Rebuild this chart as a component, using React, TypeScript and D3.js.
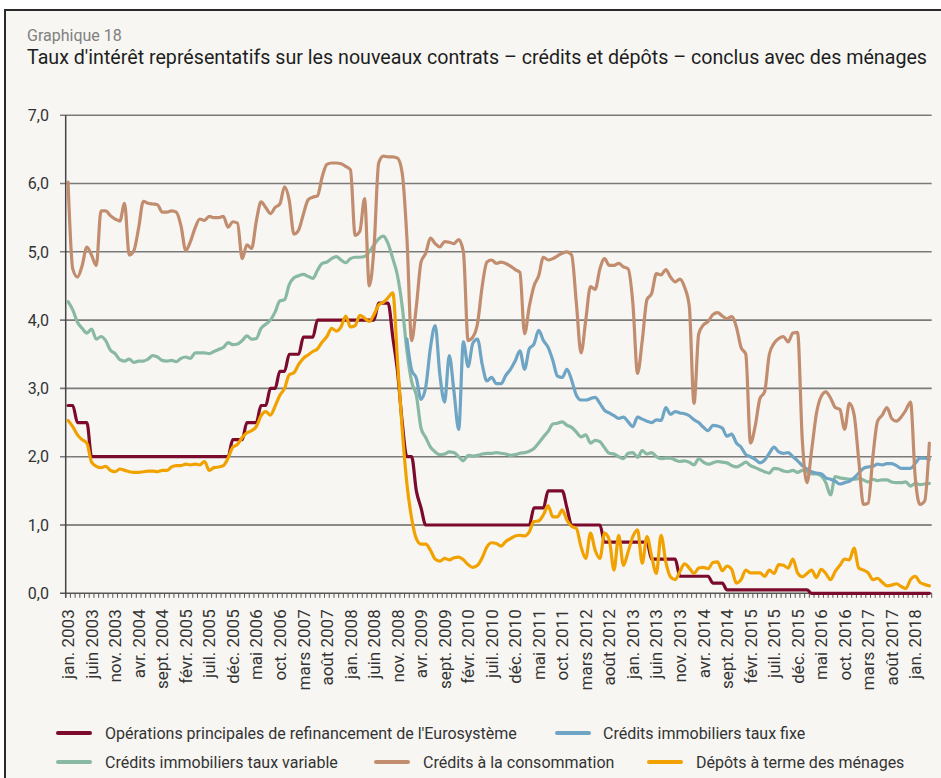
import React from 'react';
import * as d3 from 'd3';

// ---------- categories ----------
const MONTH_ABBR = ['jan.', 'févr.', 'mars', 'avr.', 'mai', 'juin', 'juil.', 'août', 'sept.', 'oct.', 'nov.', 'déc.'];
const START_YEAR = 2003;
const N_MONTHS = 184; // jan. 2003 – avr. 2018
const months: string[] = Array.from({ length: N_MONTHS }, (_, i) => `${MONTH_ABBR[i % 12]} ${START_YEAR + Math.floor(i / 12)}`);

const xTickLabels = [
  'jan. 2003', 'juin 2003', 'nov. 2003', 'avr. 2004', 'sept. 2004', 'févr. 2005', 'juil. 2005', 'déc. 2005',
  'mai 2006', 'oct. 2006', 'mars 2007', 'août 2007', 'jan. 2008', 'juin 2008', 'nov. 2008', 'avr. 2009',
  'sept. 2009', 'févr. 2010', 'juil. 2010', 'déc. 2010', 'mai 2011', 'oct. 2011', 'mars 2012', 'août 2012',
  'jan. 2013', 'juin 2013', 'nov. 2013', 'avr. 2014', 'sept. 2014', 'févr. 2015', 'juil. 2015', 'déc. 2015',
  'mai 2016', 'oct. 2016', 'mars 2017', 'août 2017', 'jan. 2018',
];
const yTicks = [0, 1, 2, 3, 4, 5, 6, 7];
const yTickLabels = ['0,0', '1,0', '2,0', '3,0', '4,0', '5,0', '6,0', '7,0'];

// ---------- series ----------
const refi: number[] = [
  2.75, 2.75, 2.5, 2.5, 2.5,
  2, 2, 2, 2, 2, 2, 2, 2, 2, 2,
  2, 2, 2, 2, 2, 2, 2, 2, 2, 2,
  2, 2, 2, 2, 2, 2, 2, 2, 2, 2,
  2.25, 2.25, 2.25, 2.5, 2.5, 2.5, 2.75, 2.75, 3, 3,
  3.25, 3.25, 3.5, 3.5, 3.5, 3.75, 3.75, 3.75, 4, 4,
  4, 4, 4, 4, 4, 4, 4, 4, 4, 4,
  4, 4.25, 4.25, 4.25, 3.75, 3.25, 2.5, 2, 2, 1.5,
  1.25, 1, 1, 1, 1, 1, 1, 1, 1, 1,
  1, 1, 1, 1, 1, 1, 1, 1, 1, 1,
  1, 1, 1, 1, 1.25, 1.25, 1.25, 1.5, 1.5, 1.5,
  1.5, 1.25, 1, 1, 1, 1, 1, 1, 1, 0.75,
  0.75, 0.75, 0.75, 0.75, 0.75, 0.75, 0.75, 0.75, 0.75, 0.5,
  0.5, 0.5, 0.5, 0.5, 0.5, 0.25, 0.25, 0.25, 0.25, 0.25,
  0.25, 0.25, 0.15, 0.15, 0.15, 0.05, 0.05, 0.05, 0.05, 0.05,
  0.05, 0.05, 0.05, 0.05, 0.05, 0.05, 0.05, 0.05, 0.05, 0.05,
  0.05, 0.05, 0.05, 0, 0, 0, 0, 0, 0, 0,
  0, 0, 0, 0, 0, 0, 0, 0, 0, 0,
  0, 0, 0, 0, 0, 0, 0, 0, 0,
];

const fixedMortgage: (number | null)[] = [
  null, null, null, null, null, null, null, null, null, null,
  null, null, null, null, null, null, null, null, null, null,
  null, null, null, null, null, null, null, null, null, null,
  null, null, null, null, null, null, null, null, null, null,
  null, null, null, null, null, null, null, null, null, null,
  null, null, null, null, null, null, null, null, null, null,
  null, null, null, null, null, null, null, null, null, null,
  null, null,
  3.72, 3.27, 3.15, 2.84, 3.02, 3.60, 3.92, 3.20,
  2.80, 3.48, 2.95, 2.40, 3.68, 3.32, 3.66, 3.72, 3.35, 3.11,
  3.16, 3.07, 3.07, 3.19, 3.28, 3.40, 3.55, 3.28, 3.58, 3.65,
  3.85, 3.70, 3.60, 3.41, 3.18, 3.16, 3.28, 3.12, 2.90, 2.83,
  2.83, 2.85, 2.87, 2.78, 2.68, 2.64, 2.60, 2.56, 2.58, 2.51,
  2.44, 2.58, 2.55, 2.52, 2.50, 2.54, 2.53, 2.72, 2.62, 2.66,
  2.64, 2.63, 2.60, 2.54, 2.50, 2.43, 2.38, 2.46, 2.45, 2.42,
  2.30, 2.33, 2.20, 2.14, 2.03, 2.00, 1.96, 1.91, 1.95, 2.05,
  2.14, 2.07, 2.05, 2.06, 2.00, 1.94, 1.87, 1.82, 1.78, 1.76,
  1.75, 1.69, 1.67, 1.64, 1.60, 1.62, 1.64, 1.69, 1.76, 1.83,
  1.85, 1.86, 1.89, 1.88, 1.90, 1.90, 1.87, 1.83, 1.83, 1.83,
  1.90, 1.98, 1.98, 1.96,
];

const variableMortgage: number[] = [
  4.27, 4.15, 3.97, 3.88, 3.81, 3.87, 3.72, 3.76, 3.70, 3.56,
  3.51, 3.42, 3.40, 3.43, 3.38, 3.40, 3.40, 3.43, 3.48, 3.46,
  3.41, 3.40, 3.41, 3.39, 3.44, 3.46, 3.44, 3.52, 3.52, 3.52,
  3.51, 3.54, 3.57, 3.60, 3.67, 3.64, 3.65, 3.70, 3.77, 3.72,
  3.73, 3.88, 3.94, 4.00, 4.12, 4.28, 4.30, 4.52, 4.62, 4.65,
  4.67, 4.64, 4.61, 4.73, 4.83, 4.85, 4.90, 4.93, 4.88, 4.84,
  4.90, 4.92, 4.92, 4.93, 5.00, 5.10, 5.19, 5.23, 5.12, 4.90,
  4.65, 4.20, 3.55, 3.10, 2.90, 2.42, 2.28, 2.14, 2.07, 2.03,
  2.04, 2.07, 2.06, 2.00, 1.94, 2.02, 2.01, 2.02, 2.04, 2.05,
  2.05, 2.06, 2.05, 2.04, 2.02, 2.03, 2.05, 2.06, 2.08, 2.12,
  2.20, 2.29, 2.37, 2.48, 2.49, 2.51, 2.46, 2.43, 2.36, 2.29,
  2.32, 2.20, 2.24, 2.22, 2.13, 2.05, 2.04, 2.00, 1.97, 2.05,
  2.06, 1.99, 2.09, 2.04, 2.06, 2.00, 1.97, 1.98, 1.98, 1.95,
  1.93, 1.94, 1.92, 1.88, 1.97, 1.92, 1.89, 1.91, 1.93, 1.92,
  1.91, 1.87, 1.85, 1.88, 1.92, 1.87, 1.84, 1.81, 1.78, 1.76,
  1.83, 1.82, 1.79, 1.78, 1.80, 1.77, 1.80, 1.78, 1.75, 1.75,
  1.72, 1.62, 1.44, 1.71, 1.69, 1.68, 1.67, 1.67, 1.68, 1.66,
  1.63, 1.67, 1.65, 1.66, 1.66, 1.63, 1.62, 1.62, 1.63, 1.57,
  1.61, 1.59, 1.60, 1.61,
];

const consumerCredit: number[] = [
  6.02, 4.75, 4.63, 4.80, 5.07, 4.95, 4.80, 5.60, 5.60, 5.53,
  5.48, 5.45, 5.71, 4.95, 5.02, 5.35, 5.74, 5.71, 5.70, 5.69,
  5.58, 5.58, 5.60, 5.58, 5.38, 5.02, 5.15, 5.35, 5.48, 5.46,
  5.52, 5.50, 5.50, 5.52, 5.36, 5.44, 5.42, 4.90, 5.10, 5.05,
  5.45, 5.73, 5.65, 5.56, 5.65, 5.70, 5.95, 5.75, 5.26, 5.32,
  5.55, 5.76, 5.80, 5.82, 6.10, 6.28, 6.30, 6.30, 6.29, 6.25,
  6.20, 5.24, 5.30, 5.78, 4.50, 5.05, 6.30, 6.40, 6.39, 6.39,
  6.37, 6.15, 5.20, 3.70, 4.20, 4.85, 4.98, 5.20, 5.12, 5.07,
  5.15, 5.14, 5.12, 5.18, 5.00, 3.70, 3.75, 3.95, 4.50, 4.85,
  4.88, 4.83, 4.85, 4.83, 4.79, 4.74, 4.70, 3.80, 4.20, 4.50,
  4.65, 4.92, 4.88, 4.90, 4.94, 4.98, 5.00, 4.95, 4.25, 3.52,
  4.00, 4.49, 4.45, 4.75, 4.90, 4.80, 4.80, 4.83, 4.78, 4.75,
  4.25, 3.22, 3.70, 4.30, 4.39, 4.68, 4.66, 4.74, 4.63, 4.56,
  4.60, 4.48, 4.20, 2.78, 3.80, 3.93, 3.98, 4.08, 4.11, 4.06,
  4.02, 4.05, 3.90, 3.60, 3.50, 2.20, 2.45, 2.85, 2.95, 3.50,
  3.66, 3.73, 3.76, 3.68, 3.81, 3.82, 2.25, 1.62, 2.10, 2.63,
  2.88, 2.95, 2.86, 2.72, 2.69, 2.40, 2.78, 2.62, 1.95, 1.30,
  1.32, 2.00, 2.52, 2.61, 2.72, 2.56, 2.52, 2.58, 2.68, 2.80,
  1.70, 1.30, 1.35, 2.20,
];

const termDeposits: number[] = [
  2.53, 2.44, 2.32, 2.25, 2.20, 1.92, 1.86, 1.84, 1.86, 1.80,
  1.78, 1.82, 1.80, 1.78, 1.77, 1.77, 1.78, 1.79, 1.79, 1.78,
  1.80, 1.80, 1.85, 1.87, 1.87, 1.89, 1.88, 1.89, 1.88, 1.93,
  1.80, 1.84, 1.85, 1.87, 1.98, 2.14, 2.18, 2.28, 2.35, 2.38,
  2.44, 2.60, 2.66, 2.61, 2.74, 2.90, 3.00, 3.20, 3.23, 3.35,
  3.44, 3.49, 3.54, 3.58, 3.68, 3.76, 3.88, 3.84, 3.90, 4.06,
  3.90, 3.92, 4.07, 4.03, 3.98, 4.08, 4.22, 4.26, 4.33, 4.40,
  3.40, 2.40, 1.60, 1.10, 0.80, 0.72, 0.72, 0.63, 0.50, 0.47,
  0.51, 0.49, 0.52, 0.53, 0.49, 0.42, 0.38, 0.41, 0.52, 0.68,
  0.74, 0.73, 0.69, 0.76, 0.80, 0.84, 0.85, 0.84, 0.90, 1.05,
  1.06, 1.15, 1.28, 1.12, 1.12, 1.22, 1.07, 0.98, 0.95, 0.68,
  0.51, 0.88, 0.63, 0.51, 0.88, 0.78, 0.34, 0.85, 0.41, 0.61,
  0.83, 0.93, 0.44, 0.83, 0.54, 0.29, 0.85, 0.46, 0.24, 0.20,
  0.32, 0.43, 0.37, 0.29, 0.37, 0.38, 0.36, 0.45, 0.46, 0.33,
  0.40, 0.35, 0.15, 0.20, 0.34, 0.30, 0.30, 0.30, 0.25, 0.34,
  0.29, 0.42, 0.41, 0.37, 0.50, 0.30, 0.24, 0.29, 0.34, 0.23,
  0.35, 0.29, 0.20, 0.32, 0.41, 0.50, 0.49, 0.66, 0.37, 0.34,
  0.30, 0.20, 0.22, 0.16, 0.11, 0.12, 0.14, 0.10, 0.07, 0.20,
  0.25, 0.16, 0.13, 0.11,
];

const seriesNames = [
  "Opérations principales de refinancement de l'Eurosystème",
  'Crédits immobiliers taux fixe',
  'Crédits immobiliers taux variable',
  'Crédits à la consommation',
  'Dépôts à terme des ménages',
];

// ---------- styling ----------
const COLORS = {
  refi: '#7b0a2c',
  fixed: '#6ea4c4',
  variable: '#89b9a2',
  consumer: '#c28d6f',
  deposits: '#f2a200',
};
const FONT = 'Roboto, "Noto Sans", "DejaVu Sans", sans-serif';
const W = 941;
const H = 778;
const PLOT_LEFT = 65.7;
const PLOT_RIGHT = 931.7;
const PLOT_TOP = 115.2;
const PLOT_BOTTOM = 593.3;

export default function App() {
  const xBand = d3.scaleBand<number>().domain(d3.range(N_MONTHS)).range([PLOT_LEFT, PLOT_RIGHT]).padding(0);
  const bw = xBand.bandwidth();
  const xc = (i: number) => (xBand(i) as number) + bw / 2;
  const y = d3.scaleLinear().domain([0, 7]).range([PLOT_BOTTOM, PLOT_TOP]);

  const mkLine = (vals: (number | null)[]) =>
    d3
      .line<number | null>()
      .defined((d) => d !== null && d !== undefined)
      .x((_, i) => xc(i))
      .y((d) => y(d as number))
      .curve(d3.curveMonotoneX)(vals) || '';

  const series = [
    { key: 'refi', vals: refi as (number | null)[], color: COLORS.refi },
    { key: 'variable', vals: variableMortgage, color: COLORS.variable },
    { key: 'fixed', vals: fixedMortgage, color: COLORS.fixed },
    { key: 'consumer', vals: consumerCredit, color: COLORS.consumer },
    { key: 'deposits', vals: termDeposits, color: COLORS.deposits },
  ];

  const legend = [
    { name: seriesNames[0], color: COLORS.refi, sx: 58, tx: 105, row: 0 },
    { name: seriesNames[1], color: COLORS.fixed, sx: 557, tx: 603, row: 0 },
    { name: seriesNames[2], color: COLORS.variable, sx: 58, tx: 105, row: 1 },
    { name: seriesNames[3], color: COLORS.consumer, sx: 376, tx: 423, row: 1 },
    { name: seriesNames[4], color: COLORS.deposits, sx: 649, tx: 696, row: 1 },
  ];
  const legendRowsY = [733, 762];

  const tickIdx = xTickLabels.map((lab) => months.indexOf(lab));
  const minorTicks = d3.range(N_MONTHS + 1).map((i) => PLOT_LEFT + i * bw);

  return (
    <svg
      width={W}
      height={H}
      viewBox={`0 0 ${W} ${H}`}
      style={{ position: 'absolute', left: 0, top: 0, display: 'block' }}
      fontFamily={FONT}
    >
      <rect x={0} y={0} width={W} height={H} fill="#ffffff" />
      <rect x={5} y={10} width={W + 40} height={H + 40} fill="#f7f6f2" stroke="#2a2a2a" strokeWidth={2} />

      <text x={27} y={41} fontSize={16} fill="#808080">Graphique 18</text>
      <text x={27} y={64} fontSize={19.5} fill="#1e1e1e" textLength={900} lengthAdjust="spacingAndGlyphs">
        Taux d'intérêt représentatifs sur les nouveaux contrats – crédits et dépôts – conclus avec des ménages
      </text>

      {/* gridlines */}
      {yTicks.map((v) => (
        <line
          key={`g${v}`}
          x1={60}
          x2={PLOT_RIGHT}
          y1={y(v)}
          y2={y(v)}
          stroke={v === 1 ? '#1c1c1c' : v === 0 ? '#555555' : '#7a7a7a'}
          strokeWidth={v === 1 ? 1 : 1.6}
        />
      ))}
      {yTicks.map((v, i) => (
        <text key={`yl${v}`} x={49} y={y(v)} dy="0.36em" textAnchor="end" fontSize={16} fill="#333">
          {yTickLabels[i]}
        </text>
      ))}

      {/* y axis */}
      <line x1={PLOT_LEFT} x2={PLOT_LEFT} y1={PLOT_TOP} y2={PLOT_BOTTOM + 4.5} stroke="#444" strokeWidth={1.5} />
      {/* monthly ticks */}
      {minorTicks.map((x, i) => (
        <line key={`t${i}`} x1={x} x2={x} y1={PLOT_BOTTOM} y2={PLOT_BOTTOM + 4.5} stroke="#555" strokeWidth={1} />
      ))}

      {/* x labels */}
      {tickIdx.map((idx, k) => (
        <text
          key={`xl${k}`}
          transform={`translate(${xc(idx)},${PLOT_BOTTOM + 16}) rotate(-90)`}
          textAnchor="end"
          dy="0.36em"
          fontSize={17}
          fill="#333"
        >
          {xTickLabels[k]}
        </text>
      ))}

      {/* series */}
      {series.map((s) => (
        <path
          key={s.key}
          d={mkLine(s.vals)}
          fill="none"
          stroke={s.color}
          strokeWidth={3.2}
          strokeLinejoin="round"
          strokeLinecap="round"
        />
      ))}

      {/* legend */}
      {legend.map((l, i) => (
        <g key={`lg${i}`}>
          <line
            x1={l.sx}
            x2={l.sx + 32}
            y1={legendRowsY[l.row]}
            y2={legendRowsY[l.row]}
            stroke={l.color}
            strokeWidth={4}
            strokeLinecap="round"
          />
          <text x={l.tx} y={legendRowsY[l.row]} dy="0.36em" fontSize={16} fill="#333">
            {l.name}
          </text>
        </g>
      ))}
    </svg>
  );
}
